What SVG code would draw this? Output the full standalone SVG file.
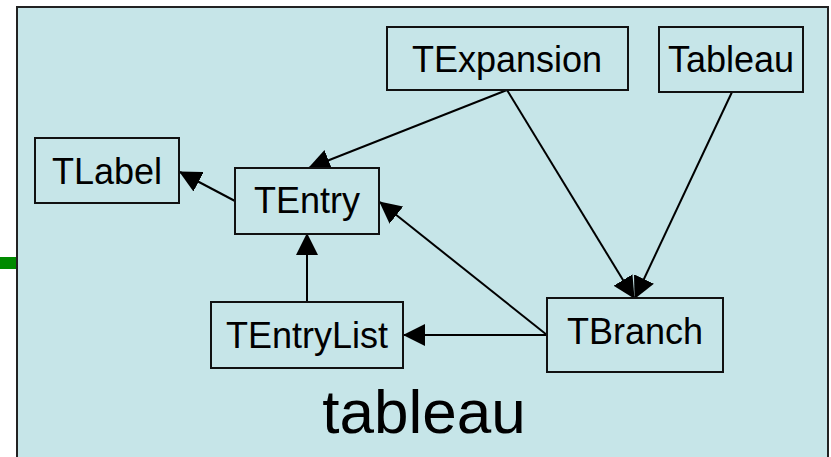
<svg xmlns="http://www.w3.org/2000/svg" width="831" height="457" viewBox="0 0 831 457">
  <style>
    .pkg { fill: #c6e5e8; stroke: #222; stroke-width: 2; }
    .node rect { fill: #c6e5e8; stroke: #111; stroke-width: 2; }
    .node text { font-family: "Liberation Sans", Arial, sans-serif; font-size: 36px; fill: #000; text-anchor: middle; }
    .edge { stroke: #000; stroke-width: 2; fill: none; marker-end: url(#head); }
    .title { font-family: "Liberation Sans", Arial, sans-serif; font-size: 62px; fill: #000; text-anchor: middle; }
  </style>
  <defs>
    <marker id="head" markerUnits="userSpaceOnUse" markerWidth="22" markerHeight="22" viewBox="0 0 22 22" refX="21" refY="11" orient="auto">
      <path d="M0,0 L22,11 L0,22 Z" fill="#000"/>
    </marker>
  </defs>

  <rect width="831" height="457" fill="#fff"/>
  <!-- incoming link stub -->
  <rect x="0" y="257" width="17" height="12" fill="#008a00"/>
  <!-- package frame -->
  <rect class="pkg" x="17" y="7" width="811" height="470"/>
  <text class="title" x="424" y="433">tableau</text>

  <g id="edges">
    <line class="edge" x1="507" y1="90" x2="309" y2="168"/>
    <line class="edge" x1="235" y1="201" x2="180" y2="172"/>
    <line class="edge" x1="507" y1="90" x2="634" y2="298"/>
    <line class="edge" x1="732" y1="92" x2="635" y2="298"/>
    <line class="edge" x1="547" y1="335" x2="380" y2="202"/>
    <line class="edge" x1="547" y1="335" x2="404" y2="335"/>
    <line class="edge" x1="307" y1="302" x2="307" y2="234"/>
  </g>

  <g id="TLabel" class="node">
    <rect x="35" y="138" width="144" height="65"/>
    <text x="107" y="184">TLabel</text>
  </g>
  <g id="TEntry" class="node">
    <rect x="235" y="168" width="144" height="66"/>
    <text x="307" y="213">TEntry</text>
  </g>
  <g id="TExpansion" class="node">
    <rect x="387" y="27" width="241" height="63"/>
    <text x="507" y="72">TExpansion</text>
  </g>
  <g id="Tableau" class="node">
    <rect x="659" y="27" width="144" height="65"/>
    <text x="731" y="72">Tableau</text>
  </g>
  <g id="TEntryList" class="node">
    <rect x="211" y="302" width="192" height="66"/>
    <text x="307" y="348">TEntryList</text>
  </g>
  <g id="TBranch" class="node">
    <rect x="547" y="298" width="176" height="74"/>
    <text x="635" y="344">TBranch</text>
  </g>
</svg>
